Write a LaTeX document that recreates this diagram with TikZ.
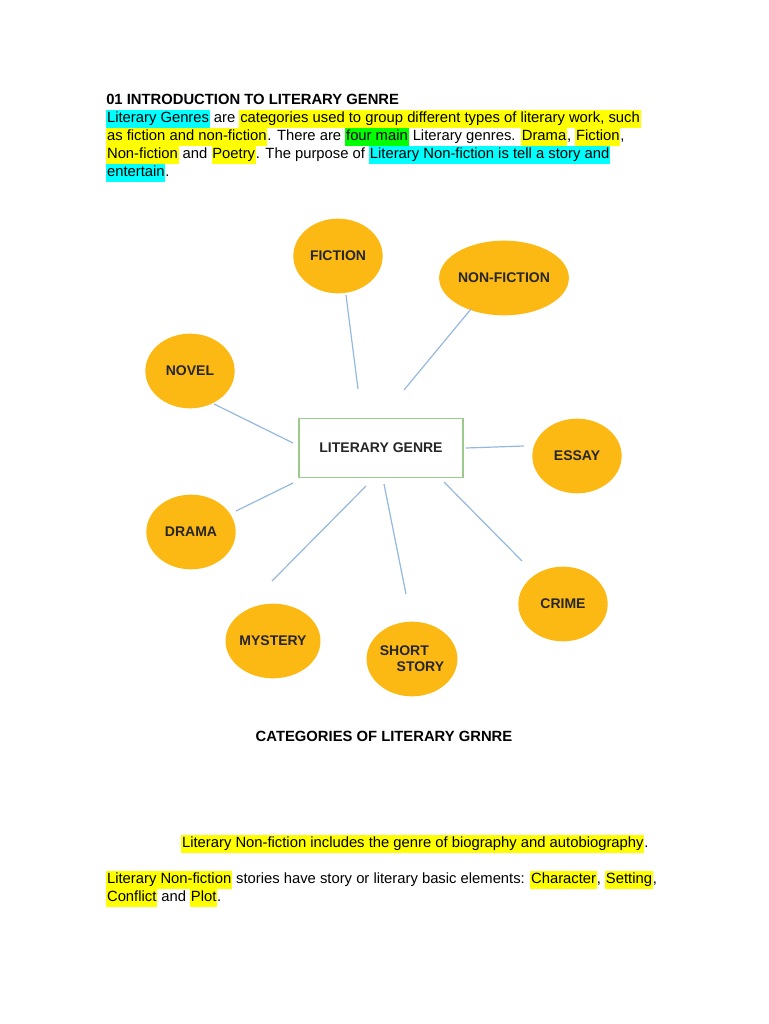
\documentclass[tikz,border=0pt]{standalone}
\usepackage{fontspec}
\setmainfont{Liberation Sans}
\usetikzlibrary{shapes.geometric}
\definecolor{hy}{HTML}{FFFF00}
\definecolor{hc}{HTML}{00FFFF}
\definecolor{hg}{HTML}{00FF00}
\definecolor{orb}{HTML}{FDB913}
\definecolor{lb}{HTML}{95B8DE}
\definecolor{gb}{HTML}{9BCB8A}
\newcommand{\hY}[1]{{\setlength{\fboxsep}{0.6pt}\colorbox{hy}{\strut #1}}}
\newcommand{\hC}[1]{{\setlength{\fboxsep}{0.6pt}\colorbox{hc}{\strut #1}}}
\newcommand{\hG}[1]{{\setlength{\fboxsep}{0.6pt}\colorbox{hg}{\strut #1}}}
\begin{document}
\begin{tikzpicture}[x=0.75pt,y=-0.75pt,
  txt/.style={anchor=west,inner sep=0pt,font=\fontsize{11.1}{12}\selectfont},
  blob/.style={ellipse,fill=orb,minimum width=67pt,minimum height=56pt,inner sep=0pt,align=center,font=\fontsize{10.5}{12}\selectfont\bfseries\color{black!85}},
  link/.style={lb,line width=0.9pt}]
\useasboundingbox (0,0) rectangle (768,1024);
\node[txt,font=\fontsize{11.1}{12}\selectfont\bfseries] (h) at (106,99) {01 INTRODUCTION TO LITERARY GENRE};
\node[txt] (l1) at (106,119) {\hC{Literary Genres} are \hY{categories used to group different types of literary work, such}};
\node[txt] (l2) at (106,137) {\hY{as fiction and non-fiction}. There are \hG{four main} Literary genres. \hY{Drama}, \hY{Fiction},};
\node[txt] (l3) at (106,155) {\hY{Non-fiction} and \hY{Poetry}. The purpose of \hC{Literary Non-fiction is tell a story and}};
\node[txt] (l4) at (106,173) {\hC{entertain}.};

\node[draw=gb,line width=0.9pt,minimum width=123pt,minimum height=44pt,font=\fontsize{10.5}{12}\selectfont\bfseries\color{black!85}] (lg) at (381,448) {LITERARY GENRE};
\node[blob] (fic) at (338,256) {FICTION};
\node[blob] (nf) at (504,278) {NON-FICTION};
\node[blob] (nov) at (190,371) {NOVEL};
\node[blob] (es) at (577,456) {ESSAY};
\node[blob] (dr) at (191,532) {DRAMA};
\node[blob] (cr) at (563,604) {CRIME};
\node[blob] (my) at (273,641) {MYSTERY};
\node[blob,align=left] (ss) at (412,659) {SHORT\\\hspace*{1.2em}STORY};

\foreach \n/\a/\b/\c/\d in {a/346/295/358/389, b/471/309/404/390, c/214/404/293/443, d/466/448/524/446, e/293/483/236/511, f/444/482/522/561, g/366/486/272/581, h/384/484/406/594}{
  \coordinate (s\n) at (\a,\b); \coordinate (e\n) at (\c,\d);
  \draw[link] (s\n) -- (e\n);
}

\node[font=\fontsize{11.1}{12}\selectfont\bfseries] (cap) at (384,736) {CATEGORIES OF LITERARY GRNRE};
\node[txt] (b1) at (181,844) {\hY{Literary Non-fiction includes the genre of biography and autobiography}.};
\node[txt] (b2) at (106,880) {\hY{Literary Non-fiction} stories have story or literary basic elements: \hY{Character}, \hY{Setting},};
\node[txt] (b3) at (106,898) {\hY{Conflict} and \hY{Plot}.};
\end{tikzpicture}
\end{document}
